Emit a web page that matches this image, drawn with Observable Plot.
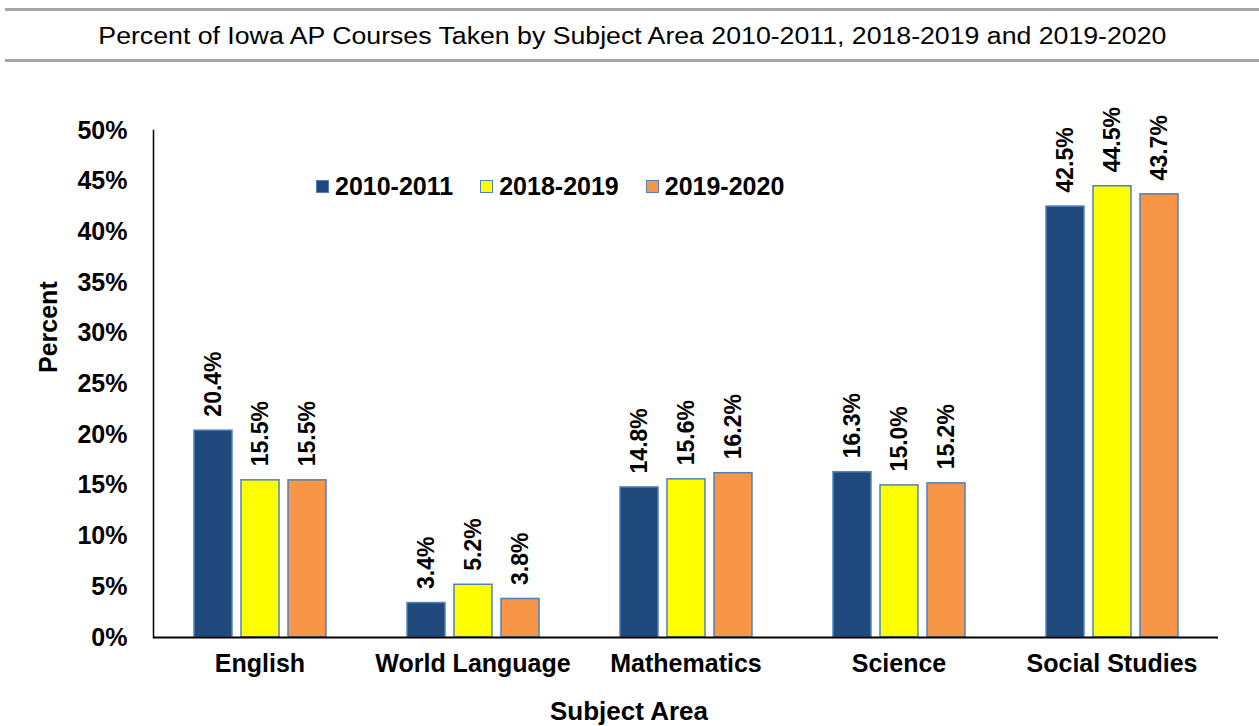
<!DOCTYPE html>
<html><head><meta charset="utf-8">
<script src="https://cdn.jsdelivr.net/npm/d3@7"></script>
<script src="https://cdn.jsdelivr.net/npm/@observablehq/plot@0.6"></script>
<style>
body{margin:0;background:#fff;font-family:"Liberation Sans",Arial,sans-serif;}
#wrap{position:relative;width:1259px;height:726px;overflow:hidden;}
#title{position:absolute;left:5px;right:0;top:8px;height:48px;border-top:3px solid #a6a6a6;border-bottom:3px solid #a6a6a6;text-align:center;font-size:23px;line-height:50px;color:#000;}
#title span{display:inline-block;transform:scaleX(1.16);transform-origin:center;}
#chart{position:absolute;left:0;top:70px;}
#legend{position:absolute;top:172px;left:316px;display:flex;align-items:center;font-weight:bold;font-size:25px;color:#000;line-height:28px;}
#legend .item{display:flex;align-items:center;margin-right:27px;}
#legend .sw{width:11px;height:11px;border:1.5px solid #4F81BD;margin-right:6px;}
</style></head>
<body>
<div id="wrap">
  <div id="title"><span></span></div>
  <div id="chart"></div>
  <div id="legend"></div>
</div>
<script>
const titleText = "Percent of Iowa AP Courses Taken by Subject Area 2010-2011, 2018-2019 and 2019-2020";
const categories = ["English", "World Language", "Mathematics", "Science", "Social Studies"];
const series = ["2010-2011", "2018-2019", "2019-2020"];
const values2010_2011 = [20.4, 3.4, 14.8, 16.3, 42.5];
const values2018_2019 = [15.5, 5.2, 15.6, 15.0, 44.5];
const values2019_2020 = [15.5, 3.8, 16.2, 15.2, 43.7];
const seriesColors = ["#1F497D", "#FFFF00", "#F79646"];
const yTicks = [0, 5, 10, 15, 20, 25, 30, 35, 40, 45, 50];
const xLabel = "Subject Area";
const yLabel = "Percent";

const seriesValues = [values2010_2011, values2018_2019, values2019_2020];
const data = [];
categories.forEach((c, i) => series.forEach((s, j) => data.push({category: c, series: s, value: seriesValues[j][i]})));

document.querySelector("#title span").textContent = titleText;
const legend = document.getElementById("legend");
series.forEach((s, j) => {
  const it = document.createElement("div"); it.className = "item";
  const sw = document.createElement("div"); sw.className = "sw"; sw.style.background = seriesColors[j];
  const tx = document.createElement("span"); tx.textContent = s;
  it.appendChild(sw); it.appendChild(tx); legend.appendChild(it);
});

const font = "Liberation Sans, Arial, sans-serif";
const chart = Plot.plot({
  width: 1259, height: 656,
  marginTop: 60, marginBottom: 89, marginLeft: 152, marginRight: 41,
  style: {fontFamily: font, fontSize: "25px", fontWeight: "bold", color: "#000", background: "#fff"},
  fx: {domain: categories, padding: 0, label: null, tickSize: 0, tickPadding: 17, axis: "bottom"},
  x: {domain: series, paddingInner: 0.2, paddingOuter: 0.845, axis: null},
  y: {domain: [0, 50], ticks: yTicks, tickFormat: d => d + "%", tickSize: 0, tickPadding: 26, label: null},
  color: {domain: series, range: seriesColors},
  marks: [
    Plot.barY(data, {fx: "category", x: "series", y: "value", fill: "series", stroke: "#4F81BD", strokeWidth: 1.5}),
    Plot.text(data, {fx: "category", x: "series", y: "value", text: d => d.value.toFixed(1) + "%",
      rotate: -90, textAnchor: "start", dy: -14, fontWeight: "bold", fontSize: 23, fill: "#000"}),
    Plot.ruleY([0], {stroke: "#000", strokeWidth: 2}),
    Plot.frame({anchor: "left", facet: "super", stroke: "#000", strokeWidth: 1.5}),
    Plot.text([xLabel], {facet: "super", frameAnchor: "bottom", dx: -57, dy: 82, fontSize: 26, fontWeight: "bold", fill: "#000"}),
    Plot.text([yLabel], {facet: "super", frameAnchor: "left", dx: -105, dy: -11, rotate: -90, fontSize: 25, fontWeight: "bold", fill: "#000"})
  ]
});
document.getElementById("chart").appendChild(chart);
</script>
</body></html>
